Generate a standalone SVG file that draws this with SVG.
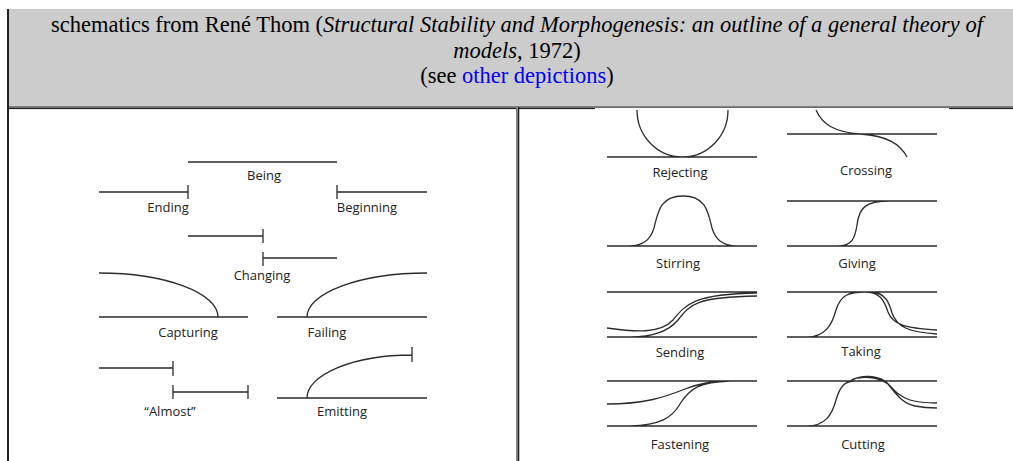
<svg xmlns="http://www.w3.org/2000/svg" width="1013" height="461" viewBox="0 0 1013 461">
<style>
.hd{font-family:"Liberation Serif","Times New Roman",serif;font-size:22.5px;fill:#000}
.it{font-style:italic}
.lk{fill:#0000ee}
.lb{font-family:"Open Sans","DejaVu Sans",sans-serif;font-size:13px;fill:#222;text-anchor:middle}
.ln{fill:none;stroke:#2b2b2b;stroke-width:1.3}
</style>
<rect x="0" y="0" width="1013" height="461" fill="#ffffff"/>
<g id="header">
<rect x="8" y="9" width="1005" height="97" fill="#cccccc"/>
<text class="hd" x="517" y="32" text-anchor="middle">schematics from René Thom (<tspan class="it">Structural Stability and Morphogenesis: an outline of a general theory of</tspan></text>
<text class="hd" x="517" y="57.5" text-anchor="middle"><tspan class="it">models</tspan>, 1972)</text>
<text class="hd" x="517" y="83" text-anchor="middle">(see <tspan class="lk">other depictions</tspan>)</text>
</g>
<g id="borders">
<rect x="8" y="106" width="1005" height="1.5" fill="#808080"/>
<rect x="8" y="107.5" width="1005" height="1.6" fill="#222"/>
<rect x="7" y="9" width="2" height="452" fill="#222"/>
<rect x="516" y="107" width="2" height="354" fill="#808080"/>
<rect x="518" y="107" width="1.3" height="354" fill="#222"/>
<rect x="595" y="108" width="354" height="353" fill="#ffffff"/>
</g>
<g id="connectors"></g>
<g id="being">
<path class="ln" d="M188,162H337"/>
<text class="lb" x="264" y="180">Being</text>
</g>
<g id="ending">
<path class="ln" d="M99,192H188M188,185V199"/>
<text class="lb" x="168" y="212">Ending</text>
</g>
<g id="beginning">
<path class="ln" d="M337,192H427M337,185V199"/>
<text class="lb" x="367" y="212">Beginning</text>
</g>
<g id="changing">
<path class="ln" d="M188,236H263M263,229V243M263,258H337M263,252V266"/>
<text class="lb" x="262" y="280">Changing</text>
</g>
<g id="capturing">
<path class="ln" d="M99,317H248M99,273A119,44 0 0 1 218,317"/>
<text class="lb" x="188" y="337">Capturing</text>
</g>
<g id="failing">
<path class="ln" d="M277,317H427M307,317A120,44 0 0 1 427,273"/>
<text class="lb" x="327" y="337">Failing</text>
</g>
<g id="almost">
<path class="ln" d="M99,368H173M173,361V376M173,392H248M173,385V399M248,385V399"/>
<text class="lb" x="170" y="416">“Almost”</text>
</g>
<g id="emitting">
<path class="ln" d="M277,398H427M307,398A105,43 0 0 1 412,355M412,347V362"/>
<text class="lb" x="342" y="416">Emitting</text>
</g>
<g id="rejecting">
<path class="ln" d="M607,157H757M637,110A45.5,47 0 0 0 728,110"/>
<text class="lb" x="680" y="177">Rejecting</text>
</g>
<g id="crossing">
<path class="ln" d="M787,134H937M816,110C822,124 834,132 860,134C888,136 900,144 907,157"/>
<text class="lb" x="866" y="175">Crossing</text>
</g>
<g id="stirring">
<path class="ln" d="M607,246H757M629,246C645,246 651,238 654,228C658,212 660,196 683,196C706,196 708,212 712,228C715,238 721,246 737,246"/>
<text class="lb" x="678" y="268">Stirring</text>
</g>
<g id="giving">
<path class="ln" d="M787,201H937M787,246H937M838,246C852,246 855,238 857,225C859,208 865,201 890,201"/>
<text class="lb" x="857" y="268">Giving</text>
</g>
<g id="sending">
<path class="ln" d="M607,292H757M607,337H757M607,328C635,332 660,334 673,320C686,304 694,294 757,293M630,337C650,337 668,332 678,320C690,304 697,297 757,296"/>
<text class="lb" x="680" y="357">Sending</text>
</g>
<g id="taking">
<path class="ln" d="M787,292H937M787,337H937M807,337C825,337 832,325 836,310C841,294 850,292 865,292C880,292 884,300 888,312C893,325 905,328 937,330M872,292C885,293 889,302 892,313C897,327 908,332 937,334"/>
<text class="lb" x="861" y="356">Taking</text>
</g>
<g id="fastening">
<path class="ln" d="M607,381H757M607,426H757M607,404C645,404 665,397 685,389C700,383 715,381 730,381M630,426C660,425 672,418 680,404C690,388 700,382 730,381"/>
<text class="lb" x="680" y="449">Fastening</text>
</g>
<g id="cutting">
<path class="ln" d="M787,381H937M787,426H937M807,426C825,426 832,415 836,400C840,386 845,381 855,381M850,381C860,375 875,375 885,381C893,388 897,396 910,400C920,403 930,403 937,403M858,378C868,376 880,378 888,384C896,394 902,403 915,406C925,408 930,408 937,408"/>
<text class="lb" x="863" y="449">Cutting</text>
</g>
</svg>
